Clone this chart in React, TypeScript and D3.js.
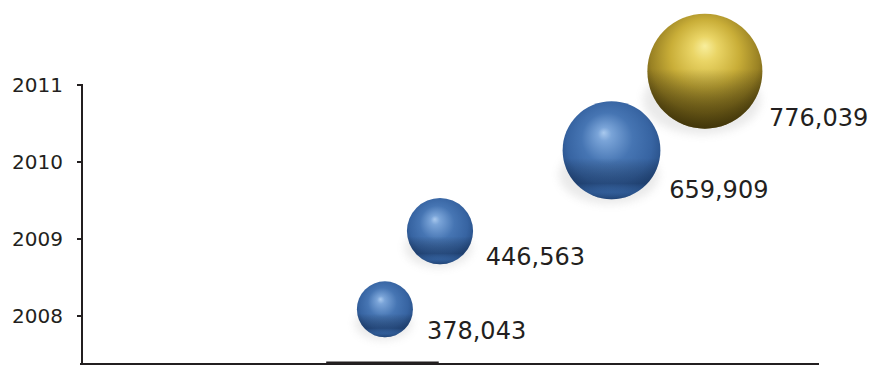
import React from "react";
import * as d3 from "d3";

const years = [2008, 2009, 2010, 2011];
const values = [378043, 446563, 659909, 776039];
const highlight = [false, false, false, true];
const yearTicks = [2008, 2009, 2010, 2011];
const baseSegment = [305000, 445000];

const W = 874;
const H = 365;

export default function App() {
  const x = d3.scaleLinear().domain([0, 918000]).range([81, 819]);
  const y = d3.scaleLinear().domain([2008, 2011]).range([316, 85]);
  const r = d3.scaleLinear().domain([0, 776039]).range([0, 57.5]);
  const fmt = d3.format(",");
  const axisColor = "#231f20";
  const baseY = 363;

  const data = years.map((yr, i) => {
    const rad = r(values[i]);
    const cx = x(values[i]);
    const cy = y(yr) - rad * 0.24;
    return { yr, v: values[i], rad, cx, cy, gold: highlight[i] };
  });

  return (
    <svg
      width={W}
      height={H}
      style={{ position: "absolute", left: 0, top: 0, background: "#fff" }}
      fontFamily="'DejaVu Sans', Verdana, sans-serif"
    >
      <defs>
        <radialGradient id="blueG" cx="50%" cy="45%" r="58%" fx="42%" fy="32%">
          <stop offset="0%" stopColor="#a9c9ee" />
          <stop offset="12%" stopColor="#7aa4d8" />
          <stop offset="45%" stopColor="#4675b3" />
          <stop offset="75%" stopColor="#3764a2" />
          <stop offset="100%" stopColor="#244a80" />
        </radialGradient>
        <radialGradient id="goldG" cx="50%" cy="42%" r="60%" fx="50%" fy="28%">
          <stop offset="0%" stopColor="#f8ee9c" />
          <stop offset="18%" stopColor="#ead566" />
          <stop offset="50%" stopColor="#c9ae38" />
          <stop offset="78%" stopColor="#9a8224" />
          <stop offset="100%" stopColor="#5c4c10" />
        </radialGradient>
        <linearGradient id="shadeB" x1="0" y1="0" x2="0" y2="1">
          <stop offset="0%" stopColor="#000" stopOpacity="0" />
          <stop offset="58%" stopColor="#000" stopOpacity="0" />
          <stop offset="84%" stopColor="#0b1f3f" stopOpacity="0.38" />
          <stop offset="93%" stopColor="#3a6aa6" stopOpacity="0.2" />
          <stop offset="100%" stopColor="#183660" stopOpacity="0.45" />
        </linearGradient>
        <linearGradient id="shadeG" x1="0" y1="0" x2="0" y2="1">
          <stop offset="0%" stopColor="#000" stopOpacity="0" />
          <stop offset="48%" stopColor="#000" stopOpacity="0" />
          <stop offset="85%" stopColor="#2a2205" stopOpacity="0.5" />
          <stop offset="100%" stopColor="#2a2205" stopOpacity="0.6" />
        </linearGradient>
        <filter id="blur" x="-50%" y="-50%" width="200%" height="200%">
          <feGaussianBlur stdDeviation="4" />
        </filter>
      </defs>

      {/* axes */}
      <line x1={x(0) + 1} x2={x(0) + 1} y1={y(2011) - 1} y2={baseY + 1} stroke={axisColor} strokeWidth={2} />
      {yearTicks.map((t) => (
        <g key={t}>
          <line x1={x(0) - 4} x2={x(0) + 1} y1={y(t)} y2={y(t)} stroke={axisColor} strokeWidth={2} />
          <text x={63} y={y(t)} dy="0.36em" textAnchor="end" fontSize={20} fill={axisColor}>
            {t}
          </text>
        </g>
      ))}
      <line x1={x(0) - 1} x2={x(918000)} y1={baseY + 1} y2={baseY + 1} stroke={axisColor} strokeWidth={2} />
      <line x1={x(baseSegment[0])} x2={x(baseSegment[1])} y1={baseY} y2={baseY} stroke={axisColor} strokeWidth={3} />

      {/* bubbles */}
      {data.map((d) => (
        <g key={d.yr}>
          <ellipse
            cx={d.cx - d.rad * 0.05}
            cy={d.cy + d.rad * 0.5}
            rx={d.rad * 1.02}
            ry={d.rad * 0.6}
            fill="#8a8a8a"
            opacity={0.18}
            filter="url(#blur)"
          />
          <circle cx={d.cx} cy={d.cy} r={d.rad} fill={d.gold ? "url(#goldG)" : "url(#blueG)"} />
          <circle cx={d.cx} cy={d.cy} r={d.rad} fill={d.gold ? "url(#shadeG)" : "url(#shadeB)"} />
          <text
            x={d.cx + d.rad * 0.75 + 21}
            y={d.cy + d.rad * 0.85 + 6}
            fontSize={24}
            fill={axisColor}
          >
            {fmt(d.v)}
          </text>
        </g>
      ))}
    </svg>
  );
}
